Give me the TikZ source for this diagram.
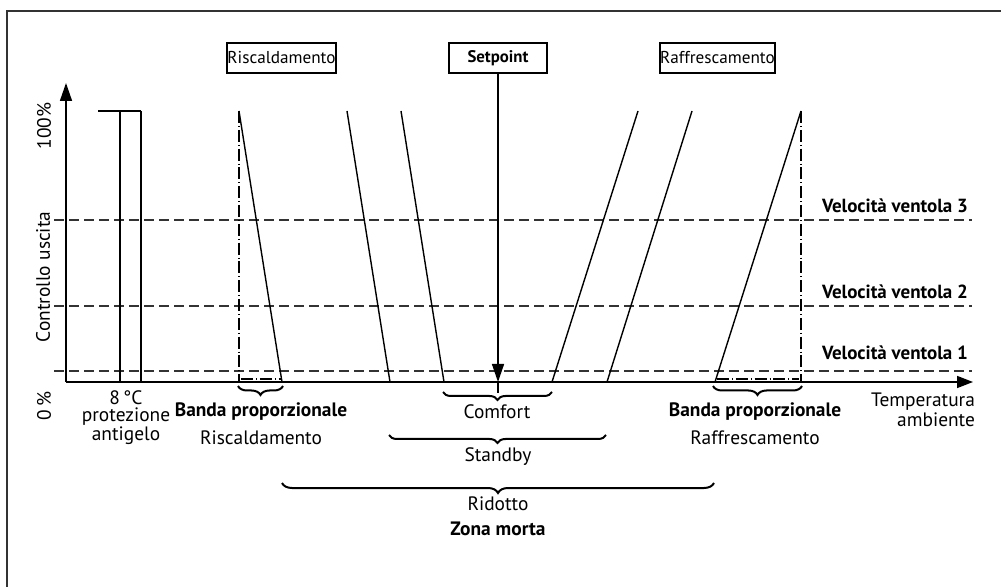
\documentclass[tikz,border=0pt]{standalone}
\usepackage{fontspec}
\setmainfont{PT Sans}
\usetikzlibrary{arrows.meta,decorations.pathreplacing}

\begin{document}
\begin{tikzpicture}[x=0.5pt,y=-0.5pt,
    font=\fontsize{9.7}{8.2}\selectfont,
    level/.style={dashed,dash pattern=on 5pt off 2.5pt,line width=0.7pt,black!80},
    band/.style={line width=0.6pt,dash pattern=on 6pt off 1.5pt on 0.4pt off 1.5pt},
    slope/.style={line width=0.7pt},
    curly/.style={decorate,decoration={brace,amplitude=#1},line width=1pt},
    speed/.style={anchor=east,font=\fontsize{9.5}{8}\bfseries},
    tag/.style={draw,line width=1pt,inner xsep=0.3pt,minimum height=15pt,font=\fontsize{8.6}{8}\selectfont}]
    \useasboundingbox (0,0) rectangle (1001,587);
    \draw[line width=0.9pt,black!80] (7,587) |- (1001,11);
    % axes
    \coordinate (o) at (66,382);
    \coordinate (ytop) at (66,83);
    \coordinate (xend) at (973,382);
    \draw[line width=0.8pt,-{Triangle[length=9pt,width=6pt]}] (o) -- (ytop);
    \draw[line width=0.8pt,-{Triangle[length=8pt,width=6pt]}] (o) -- (xend);
    \node[rotate=90] (zero) at (44,406) {0\,\%};
    \node[rotate=90] (full) at (44,126) {100\%};
    \node[rotate=90] (yl) at (43,277) {Controllo uscita};
    \node[anchor=east,align=right] (xl) at (982,410) {Temperatura\\ambiente};
    % fan speed levels
    \draw[level] (54,220) -- (972,220);
    \draw[level] (54,306) -- (972,306);
    \draw[level] (54,371) -- (972,371);
    \node[speed] (v3) at (975,206) {Velocità ventola 3};
    \node[speed] (v2) at (975,292) {Velocità ventola 2};
    \node[speed] (v1) at (975,353) {Velocità ventola 1};
    % antifreeze
    \draw[slope] (98,111) -- (141,111);
    \draw[slope] (120,111) -- (120,382);
    \draw[slope] (141,111) -- (141,382);
    \node[align=center] (gelo) at (126,418) {8\,°C\\protezione\\antigelo};
    % heating band
    \draw[band] (239,111) -- (239,382);
    \draw[band] (241,379) -- (281,379);
    \draw[slope] (239,111) -- (282,382);
    \draw[slope] (347,111) -- (390,382);
    \draw[slope] (401,111) -- (444,382);
    % cooling band
    \draw[slope] (638,111) -- (552,382);
    \draw[slope] (692,111) -- (607,382);
    \draw[slope] (801,111) -- (715,382);
    \draw[band] (801,111) -- (801,382);
    \draw[band] (717,379) -- (799,379);
    % boxes on top
    \node[tag,minimum width=49pt] (risc) at (281.5,58) {Riscaldamento};
    \node[tag,minimum width=49pt,font=\fontsize{8.4}{8}\bfseries] (setp) at (498,58) {Setpoint};
    \node[tag,minimum width=52pt] (raff) at (717.5,58) {Raffrescamento};
    \coordinate (spx) at (498,382);
    \draw[line width=0.7pt,-{Triangle[length=9pt,width=6pt]}] (setp) -- (spx);
    \draw[line width=0.7pt] (spx) -- ++(0,11);
    % braces
    \draw[curly=4.5pt] (283,386) -- (238,386);
    \draw[curly=4.5pt] (802,386) -- (713,386);
    \draw[curly=4pt] (552,392) -- (443,392);
    \draw[curly=4pt] (606,435) -- (389,435);
    \draw[curly=5pt] (714,483) -- (282,483);
    \node[align=center] (bh) at (261,424) {\textbf{Banda proporzionale}\\[4pt]Riscaldamento};
    \node[align=center] (bc) at (755,424) {\textbf{Banda proporzionale}\\[4pt]Raffrescamento};
    \node (comf) at (497,412) {Comfort};
    \node (stby) at (498,457) {Standby};
    \node (rid) at (498,504) {Ridotto};
    \node[font=\fontsize{9.7}{8}\bfseries] (zona) at (498,529) {Zona morta};
\end{tikzpicture}
\end{document}
